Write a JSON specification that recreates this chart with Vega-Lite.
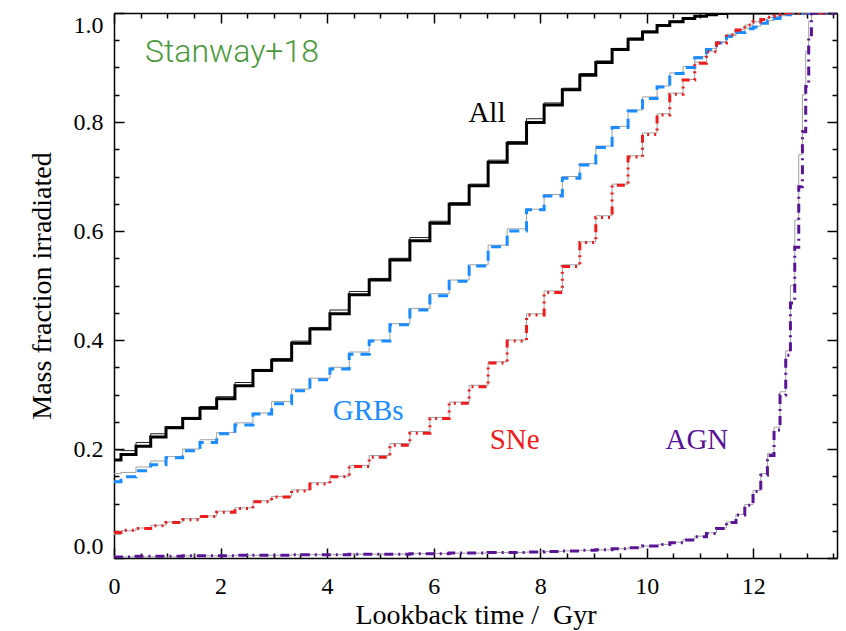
{
  "$schema": "https://vega.github.io/schema/vega-lite/v6.json",
  "width": 723,
  "height": 545,
  "autosize": {"type": "none"},
  "padding": {"left": 114, "top": 13, "right": 9, "bottom": 73},
  "background": "white",
  "config": {
    "view": {"stroke": null},
    "axis": {
      "grid": false,
      "domainColor": "black",
      "domainWidth": 1.5,
      "tickColor": "black",
      "tickWidth": 1.5,
      "labelFont": "Liberation Serif",
      "labelFontSize": 24,
      "labelColor": "black",
      "titleFont": "Liberation Serif",
      "titleFontSize": 28,
      "titleFontWeight": "normal",
      "titleColor": "black"
    }
  },
  "datasets": {
    "curves": [
      {"s":"All","x":0,"y":0.18},{"s":"All","x":0.131,"y":0.19},{"s":"All","x":0.413,"y":0.205},{"s":"All","x":0.689,"y":0.222},{"s":"All","x":0.976,"y":0.239},{"s":"All","x":1.289,"y":0.256},{"s":"All","x":1.614,"y":0.275},{"s":"All","x":1.927,"y":0.292},{"s":"All","x":2.27,"y":0.316},{"s":"All","x":2.608,"y":0.344},{"s":"All","x":2.959,"y":0.363},{"s":"All","x":3.334,"y":0.394},{"s":"All","x":3.677,"y":0.42},{"s":"All","x":4.053,"y":0.448},{"s":"All","x":4.415,"y":0.483},{"s":"All","x":4.79,"y":0.51},{"s":"All","x":5.178,"y":0.547},{"s":"All","x":5.553,"y":0.582},{"s":"All","x":5.929,"y":0.614},{"s":"All","x":6.291,"y":0.649},{"s":"All","x":6.666,"y":0.683},{"s":"All","x":7.022,"y":0.726},{"s":"All","x":7.379,"y":0.761},{"s":"All","x":7.743,"y":0.799},{"s":"All","x":8.073,"y":0.831},{"s":"All","x":8.415,"y":0.859},{"s":"All","x":8.743,"y":0.886},{"s":"All","x":9.043,"y":0.909},{"s":"All","x":9.349,"y":0.933},{"s":"All","x":9.649,"y":0.952},{"s":"All","x":9.919,"y":0.965},{"s":"All","x":10.193,"y":0.977},{"s":"All","x":10.431,"y":0.984},{"s":"All","x":10.681,"y":0.99},{"s":"All","x":10.9,"y":0.994},{"s":"All","x":11.12,"y":0.997},{"s":"All","x":11.308,"y":0.999},{"s":"All","x":11.495,"y":1},{"s":"All","x":13.55,"y":1},

      {"s":"GRBs","x":0,"y":0.14},{"s":"GRBs","x":0.131,"y":0.149},{"s":"GRBs","x":0.413,"y":0.16},{"s":"GRBs","x":0.689,"y":0.171},{"s":"GRBs","x":0.976,"y":0.184},{"s":"GRBs","x":1.289,"y":0.197},{"s":"GRBs","x":1.614,"y":0.212},{"s":"GRBs","x":1.927,"y":0.228},{"s":"GRBs","x":2.27,"y":0.244},{"s":"GRBs","x":2.608,"y":0.264},{"s":"GRBs","x":2.959,"y":0.283},{"s":"GRBs","x":3.334,"y":0.307},{"s":"GRBs","x":3.677,"y":0.327},{"s":"GRBs","x":4.053,"y":0.347},{"s":"GRBs","x":4.415,"y":0.374},{"s":"GRBs","x":4.79,"y":0.398},{"s":"GRBs","x":5.178,"y":0.428},{"s":"GRBs","x":5.553,"y":0.455},{"s":"GRBs","x":5.929,"y":0.481},{"s":"GRBs","x":6.291,"y":0.508},{"s":"GRBs","x":6.666,"y":0.536},{"s":"GRBs","x":7.022,"y":0.571},{"s":"GRBs","x":7.379,"y":0.6},{"s":"GRBs","x":7.743,"y":0.639},{"s":"GRBs","x":8.073,"y":0.664},{"s":"GRBs","x":8.415,"y":0.697},{"s":"GRBs","x":8.743,"y":0.721},{"s":"GRBs","x":9.043,"y":0.753},{"s":"GRBs","x":9.349,"y":0.79},{"s":"GRBs","x":9.649,"y":0.82},{"s":"GRBs","x":9.919,"y":0.843},{"s":"GRBs","x":10.193,"y":0.864},{"s":"GRBs","x":10.431,"y":0.889},{"s":"GRBs","x":10.681,"y":0.9},{"s":"GRBs","x":10.9,"y":0.918},{"s":"GRBs","x":11.12,"y":0.933},{"s":"GRBs","x":11.308,"y":0.945},{"s":"GRBs","x":11.495,"y":0.957},{"s":"GRBs","x":11.674,"y":0.964},{"s":"GRBs","x":11.839,"y":0.971},{"s":"GRBs","x":11.994,"y":0.974},{"s":"GRBs","x":12.139,"y":0.981},{"s":"GRBs","x":12.264,"y":0.985},{"s":"GRBs","x":12.388,"y":0.99},{"s":"GRBs","x":12.501,"y":0.994},{"s":"GRBs","x":12.608,"y":0.997},{"s":"GRBs","x":12.696,"y":1},{"s":"GRBs","x":13.55,"y":1},

      {"s":"SNe","x":0,"y":0.047},{"s":"SNe","x":0.131,"y":0.051},{"s":"SNe","x":0.413,"y":0.054},{"s":"SNe","x":0.689,"y":0.059},{"s":"SNe","x":0.976,"y":0.065},{"s":"SNe","x":1.289,"y":0.07},{"s":"SNe","x":1.614,"y":0.076},{"s":"SNe","x":1.927,"y":0.084},{"s":"SNe","x":2.27,"y":0.091},{"s":"SNe","x":2.608,"y":0.103},{"s":"SNe","x":2.959,"y":0.112},{"s":"SNe","x":3.334,"y":0.123},{"s":"SNe","x":3.677,"y":0.136},{"s":"SNe","x":4.053,"y":0.149},{"s":"SNe","x":4.415,"y":0.168},{"s":"SNe","x":4.79,"y":0.185},{"s":"SNe","x":5.178,"y":0.207},{"s":"SNe","x":5.553,"y":0.229},{"s":"SNe","x":5.929,"y":0.256},{"s":"SNe","x":6.291,"y":0.284},{"s":"SNe","x":6.666,"y":0.314},{"s":"SNe","x":7.022,"y":0.358},{"s":"SNe","x":7.379,"y":0.398},{"s":"SNe","x":7.743,"y":0.446},{"s":"SNe","x":8.073,"y":0.487},{"s":"SNe","x":8.415,"y":0.535},{"s":"SNe","x":8.743,"y":0.579},{"s":"SNe","x":9.043,"y":0.625},{"s":"SNe","x":9.349,"y":0.684},{"s":"SNe","x":9.649,"y":0.736},{"s":"SNe","x":9.919,"y":0.777},{"s":"SNe","x":10.193,"y":0.813},{"s":"SNe","x":10.431,"y":0.851},{"s":"SNe","x":10.681,"y":0.877},{"s":"SNe","x":10.9,"y":0.908},{"s":"SNe","x":11.12,"y":0.929},{"s":"SNe","x":11.308,"y":0.945},{"s":"SNe","x":11.495,"y":0.96},{"s":"SNe","x":11.674,"y":0.969},{"s":"SNe","x":11.839,"y":0.978},{"s":"SNe","x":11.994,"y":0.984},{"s":"SNe","x":12.139,"y":0.988},{"s":"SNe","x":12.264,"y":0.992},{"s":"SNe","x":12.388,"y":0.994},{"s":"SNe","x":12.501,"y":0.997},{"s":"SNe","x":12.608,"y":1},{"s":"SNe","x":13.55,"y":1},

      {"s":"AGN","x":0,"y":0.002},{"s":"AGN","x":0.131,"y":0.002},{"s":"AGN","x":0.413,"y":0.003},{"s":"AGN","x":0.689,"y":0.003},{"s":"AGN","x":0.976,"y":0.003},{"s":"AGN","x":1.289,"y":0.004},{"s":"AGN","x":1.614,"y":0.004},{"s":"AGN","x":1.927,"y":0.004},{"s":"AGN","x":2.27,"y":0.005},{"s":"AGN","x":2.608,"y":0.005},{"s":"AGN","x":2.959,"y":0.005},{"s":"AGN","x":3.334,"y":0.006},{"s":"AGN","x":3.677,"y":0.006},{"s":"AGN","x":4.053,"y":0.006},{"s":"AGN","x":4.415,"y":0.007},{"s":"AGN","x":4.79,"y":0.007},{"s":"AGN","x":5.178,"y":0.007},{"s":"AGN","x":5.553,"y":0.008},{"s":"AGN","x":5.929,"y":0.008},{"s":"AGN","x":6.291,"y":0.009},{"s":"AGN","x":6.666,"y":0.009},{"s":"AGN","x":7.022,"y":0.01},{"s":"AGN","x":7.379,"y":0.01},{"s":"AGN","x":7.743,"y":0.011},{"s":"AGN","x":8.073,"y":0.012},{"s":"AGN","x":8.415,"y":0.013},{"s":"AGN","x":8.743,"y":0.014},{"s":"AGN","x":9.043,"y":0.015},{"s":"AGN","x":9.349,"y":0.017},{"s":"AGN","x":9.649,"y":0.019},{"s":"AGN","x":9.919,"y":0.022},{"s":"AGN","x":10.193,"y":0.025},{"s":"AGN","x":10.431,"y":0.028},{"s":"AGN","x":10.681,"y":0.033},{"s":"AGN","x":10.9,"y":0.039},{"s":"AGN","x":11.12,"y":0.045},{"s":"AGN","x":11.308,"y":0.054},{"s":"AGN","x":11.495,"y":0.065},{"s":"AGN","x":11.674,"y":0.079},{"s":"AGN","x":11.839,"y":0.097},{"s":"AGN","x":11.994,"y":0.122},{"s":"AGN","x":12.139,"y":0.152},{"s":"AGN","x":12.264,"y":0.188},{"s":"AGN","x":12.388,"y":0.235},{"s":"AGN","x":12.501,"y":0.299},{"s":"AGN","x":12.608,"y":0.372},{"s":"AGN","x":12.696,"y":0.468},{"s":"AGN","x":12.777,"y":0.57},{"s":"AGN","x":12.852,"y":0.681},{"s":"AGN","x":12.921,"y":0.782},{"s":"AGN","x":12.983,"y":0.865},{"s":"AGN","x":13.039,"y":0.96},{"s":"AGN","x":13.09,"y":1},{"s":"AGN","x":13.55,"y":1},

      {"s":"All (thin)","x":0,"y":0.198},{"s":"All (thin)","x":0.131,"y":0.197},{"s":"All (thin)","x":0.413,"y":0.212},{"s":"All (thin)","x":0.689,"y":0.228},{"s":"All (thin)","x":0.976,"y":0.241},{"s":"All (thin)","x":1.289,"y":0.258},{"s":"All (thin)","x":1.614,"y":0.278},{"s":"All (thin)","x":1.927,"y":0.296},{"s":"All (thin)","x":2.27,"y":0.322},{"s":"All (thin)","x":2.608,"y":0.346},{"s":"All (thin)","x":2.959,"y":0.366},{"s":"All (thin)","x":3.334,"y":0.398},{"s":"All (thin)","x":3.677,"y":0.423},{"s":"All (thin)","x":4.053,"y":0.455},{"s":"All (thin)","x":4.415,"y":0.489},{"s":"All (thin)","x":4.79,"y":0.513},{"s":"All (thin)","x":5.178,"y":0.55},{"s":"All (thin)","x":5.553,"y":0.588},{"s":"All (thin)","x":5.929,"y":0.618},{"s":"All (thin)","x":6.291,"y":0.652},{"s":"All (thin)","x":6.666,"y":0.686},{"s":"All (thin)","x":7.022,"y":0.73},{"s":"All (thin)","x":7.379,"y":0.764},{"s":"All (thin)","x":7.743,"y":0.806},{"s":"All (thin)","x":8.073,"y":0.835},{"s":"All (thin)","x":8.415,"y":0.862},{"s":"All (thin)","x":8.743,"y":0.889},{"s":"All (thin)","x":9.043,"y":0.912},{"s":"All (thin)","x":9.349,"y":0.935},{"s":"All (thin)","x":9.649,"y":0.954},{"s":"All (thin)","x":9.919,"y":0.967},{"s":"All (thin)","x":10.193,"y":0.978},{"s":"All (thin)","x":10.431,"y":0.985},{"s":"All (thin)","x":10.681,"y":0.991},{"s":"All (thin)","x":10.9,"y":0.995},{"s":"All (thin)","x":11.12,"y":0.998},{"s":"All (thin)","x":11.308,"y":0.999},{"s":"All (thin)","x":11.495,"y":1},{"s":"All (thin)","x":13.55,"y":1},

      {"s":"GRBs (thin)","x":0,"y":0.155},{"s":"GRBs (thin)","x":0.131,"y":0.157},{"s":"GRBs (thin)","x":0.413,"y":0.167},{"s":"GRBs (thin)","x":0.689,"y":0.178},{"s":"GRBs (thin)","x":0.976,"y":0.186},{"s":"GRBs (thin)","x":1.289,"y":0.2},{"s":"GRBs (thin)","x":1.614,"y":0.217},{"s":"GRBs (thin)","x":1.927,"y":0.23},{"s":"GRBs (thin)","x":2.27,"y":0.248},{"s":"GRBs (thin)","x":2.608,"y":0.266},{"s":"GRBs (thin)","x":2.959,"y":0.287},{"s":"GRBs (thin)","x":3.334,"y":0.31},{"s":"GRBs (thin)","x":3.677,"y":0.33},{"s":"GRBs (thin)","x":4.053,"y":0.35},{"s":"GRBs (thin)","x":4.415,"y":0.378},{"s":"GRBs (thin)","x":4.79,"y":0.4},{"s":"GRBs (thin)","x":5.178,"y":0.43},{"s":"GRBs (thin)","x":5.553,"y":0.458},{"s":"GRBs (thin)","x":5.929,"y":0.485},{"s":"GRBs (thin)","x":6.291,"y":0.51},{"s":"GRBs (thin)","x":6.666,"y":0.538},{"s":"GRBs (thin)","x":7.022,"y":0.574},{"s":"GRBs (thin)","x":7.379,"y":0.604},{"s":"GRBs (thin)","x":7.743,"y":0.64},{"s":"GRBs (thin)","x":8.073,"y":0.667},{"s":"GRBs (thin)","x":8.415,"y":0.7},{"s":"GRBs (thin)","x":8.743,"y":0.724},{"s":"GRBs (thin)","x":9.043,"y":0.756},{"s":"GRBs (thin)","x":9.349,"y":0.792},{"s":"GRBs (thin)","x":9.649,"y":0.822},{"s":"GRBs (thin)","x":9.919,"y":0.846},{"s":"GRBs (thin)","x":10.193,"y":0.866},{"s":"GRBs (thin)","x":10.431,"y":0.89},{"s":"GRBs (thin)","x":10.681,"y":0.902},{"s":"GRBs (thin)","x":10.9,"y":0.92},{"s":"GRBs (thin)","x":11.12,"y":0.935},{"s":"GRBs (thin)","x":11.308,"y":0.947},{"s":"GRBs (thin)","x":11.495,"y":0.958},{"s":"GRBs (thin)","x":11.674,"y":0.966},{"s":"GRBs (thin)","x":11.839,"y":0.972},{"s":"GRBs (thin)","x":11.994,"y":0.976},{"s":"GRBs (thin)","x":12.139,"y":0.982},{"s":"GRBs (thin)","x":12.264,"y":0.986},{"s":"GRBs (thin)","x":12.388,"y":0.99},{"s":"GRBs (thin)","x":12.501,"y":0.995},{"s":"GRBs (thin)","x":12.608,"y":0.997},{"s":"GRBs (thin)","x":12.696,"y":1},{"s":"GRBs (thin)","x":13.55,"y":1},

      {"s":"SNe (thin)","x":0,"y":0.043},{"s":"SNe (thin)","x":0.131,"y":0.05},{"s":"SNe (thin)","x":0.413,"y":0.055},{"s":"SNe (thin)","x":0.689,"y":0.06},{"s":"SNe (thin)","x":0.976,"y":0.066},{"s":"SNe (thin)","x":1.289,"y":0.072},{"s":"SNe (thin)","x":1.614,"y":0.077},{"s":"SNe (thin)","x":1.927,"y":0.086},{"s":"SNe (thin)","x":2.27,"y":0.092},{"s":"SNe (thin)","x":2.608,"y":0.105},{"s":"SNe (thin)","x":2.959,"y":0.113},{"s":"SNe (thin)","x":3.334,"y":0.125},{"s":"SNe (thin)","x":3.677,"y":0.138},{"s":"SNe (thin)","x":4.053,"y":0.15},{"s":"SNe (thin)","x":4.415,"y":0.17},{"s":"SNe (thin)","x":4.79,"y":0.188},{"s":"SNe (thin)","x":5.178,"y":0.21},{"s":"SNe (thin)","x":5.553,"y":0.232},{"s":"SNe (thin)","x":5.929,"y":0.258},{"s":"SNe (thin)","x":6.291,"y":0.286},{"s":"SNe (thin)","x":6.666,"y":0.317},{"s":"SNe (thin)","x":7.022,"y":0.36},{"s":"SNe (thin)","x":7.379,"y":0.4},{"s":"SNe (thin)","x":7.743,"y":0.448},{"s":"SNe (thin)","x":8.073,"y":0.49},{"s":"SNe (thin)","x":8.415,"y":0.538},{"s":"SNe (thin)","x":8.743,"y":0.58},{"s":"SNe (thin)","x":9.043,"y":0.628},{"s":"SNe (thin)","x":9.349,"y":0.686},{"s":"SNe (thin)","x":9.649,"y":0.738},{"s":"SNe (thin)","x":9.919,"y":0.78},{"s":"SNe (thin)","x":10.193,"y":0.815},{"s":"SNe (thin)","x":10.431,"y":0.853},{"s":"SNe (thin)","x":10.681,"y":0.878},{"s":"SNe (thin)","x":10.9,"y":0.91},{"s":"SNe (thin)","x":11.12,"y":0.93},{"s":"SNe (thin)","x":11.308,"y":0.946},{"s":"SNe (thin)","x":11.495,"y":0.961},{"s":"SNe (thin)","x":11.674,"y":0.97},{"s":"SNe (thin)","x":11.839,"y":0.978},{"s":"SNe (thin)","x":11.994,"y":0.984},{"s":"SNe (thin)","x":12.139,"y":0.988},{"s":"SNe (thin)","x":12.264,"y":0.992},{"s":"SNe (thin)","x":12.388,"y":0.994},{"s":"SNe (thin)","x":12.501,"y":0.997},{"s":"SNe (thin)","x":12.608,"y":1},{"s":"SNe (thin)","x":13.55,"y":1},

      {"s":"AGN (thin)","x":0,"y":0.002},{"s":"AGN (thin)","x":1.289,"y":0.004},{"s":"AGN (thin)","x":2.27,"y":0.005},{"s":"AGN (thin)","x":3.334,"y":0.006},{"s":"AGN (thin)","x":4.415,"y":0.007},{"s":"AGN (thin)","x":5.553,"y":0.008},{"s":"AGN (thin)","x":6.291,"y":0.009},{"s":"AGN (thin)","x":7.022,"y":0.01},{"s":"AGN (thin)","x":7.743,"y":0.011},{"s":"AGN (thin)","x":8.073,"y":0.012},{"s":"AGN (thin)","x":8.415,"y":0.013},{"s":"AGN (thin)","x":8.743,"y":0.014},{"s":"AGN (thin)","x":9.043,"y":0.015},{"s":"AGN (thin)","x":9.349,"y":0.017},{"s":"AGN (thin)","x":9.649,"y":0.019},{"s":"AGN (thin)","x":9.919,"y":0.022},{"s":"AGN (thin)","x":10.193,"y":0.025},{"s":"AGN (thin)","x":10.431,"y":0.029},{"s":"AGN (thin)","x":10.681,"y":0.034},{"s":"AGN (thin)","x":10.9,"y":0.04},{"s":"AGN (thin)","x":11.12,"y":0.046},{"s":"AGN (thin)","x":11.308,"y":0.055},{"s":"AGN (thin)","x":11.495,"y":0.066},{"s":"AGN (thin)","x":11.674,"y":0.08},{"s":"AGN (thin)","x":11.839,"y":0.098},{"s":"AGN (thin)","x":11.994,"y":0.124},{"s":"AGN (thin)","x":12.139,"y":0.155},{"s":"AGN (thin)","x":12.264,"y":0.192},{"s":"AGN (thin)","x":12.388,"y":0.24},{"s":"AGN (thin)","x":12.501,"y":0.305},{"s":"AGN (thin)","x":12.608,"y":0.38},{"s":"AGN (thin)","x":12.696,"y":0.5},{"s":"AGN (thin)","x":12.777,"y":0.62},{"s":"AGN (thin)","x":12.852,"y":0.74},{"s":"AGN (thin)","x":12.921,"y":0.85},{"s":"AGN (thin)","x":12.983,"y":0.93},{"s":"AGN (thin)","x":13.039,"y":0.985},{"s":"AGN (thin)","x":13.09,"y":1},{"s":"AGN (thin)","x":13.55,"y":1}
    ],
    "labels": [
      {"s":"All","x":7.0,"y":0.817},
      {"s":"GRBs","x":4.77,"y":0.27},
      {"s":"SNe","x":7.52,"y":0.217},
      {"s":"AGN","x":10.94,"y":0.217}
    ],
    "note": [
      {"s":"Stanway+18","x":2.215,"y":0.928}
    ]
  },
  "layer": [
    {
      "data": {"name": "curves"},
      "transform": [{"filter": {"field": "s", "oneOf": ["All (thin)", "GRBs (thin)", "SNe (thin)", "AGN (thin)"]}}],
      "mark": {"type": "line", "interpolate": "step-after", "strokeWidth": 1, "clip": true},
      "encoding": {
        "x": {"field": "x", "type": "quantitative", "scale": {"domain": [0, 13.57], "nice": false, "zero": false},
          "axis": {"orient": "bottom", "values": [0.5,1,1.5,2.5,3,3.5,4.5,5,5.5,6.5,7,7.5,8.5,9,9.5,10.5,11,11.5,12.5,13,13.5], "tickSize": -5, "labels": false, "domain": false, "title": null}},
        "y": {"field": "y", "type": "quantitative", "scale": {"domain": [0, 1], "nice": false, "zero": false},
          "axis": {"orient": "left", "values": [0.05,0.1,0.15,0.25,0.3,0.35,0.45,0.5,0.55,0.65,0.7,0.75,0.85,0.9,0.95], "tickSize": -5, "labels": false, "domain": false, "title": null}},
        "color": {"field": "s", "type": "nominal", "legend": null,
          "scale": {"domain": ["All","GRBs","SNe","AGN","All (thin)","GRBs (thin)","SNe (thin)","AGN (thin)","Stanway+18"],
                    "range": ["#000000","#1a8cff","#ee1c1c","#5a1496","#222222","#a0a0a0","#a0a0a0","#a0a0a0","#4a9a3a"]}}
      }
    },
    {
      "data": {"name": "curves"},
      "transform": [{"filter": {"field": "s", "oneOf": ["All", "GRBs", "SNe", "AGN"]}}],
      "mark": {"type": "line", "interpolate": "step-after", "strokeWidth": 3, "strokeCap": "butt", "clip": true},
      "encoding": {
        "x": {"field": "x", "type": "quantitative",
          "axis": {"orient": "bottom", "values": [0,2,4,6,8,10,12], "tickSize": -10, "labelPadding": 26, "labelFlush": false,
                   "title": "Lookback time / \u00a0Gyr", "titleY": 65, "titleBaseline": "alphabetic"}},
        "y": {"field": "y", "type": "quantitative",
          "axis": {"orient": "left", "values": [0,0.2,0.4,0.6,0.8,1], "format": ".1f", "tickSize": -10, "labelPadding": 21, "labelFlush": true,
                   "title": "Mass fraction irradiated", "titleX": -64, "titleBaseline": "alphabetic"}},
        "color": {"field": "s", "type": "nominal", "legend": null},
        "strokeDash": {"field": "s", "type": "nominal", "legend": null,
          "scale": {"domain": ["All","GRBs","SNe","AGN"], "range": [[1,0],[10,7],[8,5,2,5,2,5,2,5],[9,5,2,5]]}}
      }
    },
    {
      "data": {"name": "labels"},
      "mark": {"type": "text", "font": "Liberation Serif", "fontSize": 29, "align": "center", "baseline": "middle"},
      "encoding": {
        "x": {"field": "x", "type": "quantitative",
          "axis": {"orient": "top", "values": [0,2,4,6,8,10,12], "tickSize": -10, "labels": false, "title": null}},
        "y": {"field": "y", "type": "quantitative",
          "axis": {"orient": "right", "values": [0,0.2,0.4,0.6,0.8,1], "tickSize": -10, "labels": false, "title": null}},
        "text": {"field": "s"},
        "color": {"field": "s", "type": "nominal", "legend": null}
      }
    },
    {
      "data": {"name": "note"},
      "mark": {"type": "text", "font": "Roboto", "fontWeight": 300, "fontSize": 32, "align": "center", "baseline": "middle"},
      "encoding": {
        "x": {"field": "x", "type": "quantitative",
          "axis": {"orient": "top", "values": [0.5,1,1.5,2.5,3,3.5,4.5,5,5.5,6.5,7,7.5,8.5,9,9.5,10.5,11,11.5,12.5,13,13.5], "tickSize": -5, "labels": false, "domain": false, "title": null}},
        "y": {"field": "y", "type": "quantitative",
          "axis": {"orient": "right", "values": [0.05,0.1,0.15,0.25,0.3,0.35,0.45,0.5,0.55,0.65,0.7,0.75,0.85,0.9,0.95], "tickSize": -5, "labels": false, "domain": false, "title": null}},
        "text": {"field": "s"},
        "color": {"field": "s", "type": "nominal", "legend": null}
      }
    }
  ],
  "resolve": {"axis": {"x": "independent", "y": "independent"}}
}
